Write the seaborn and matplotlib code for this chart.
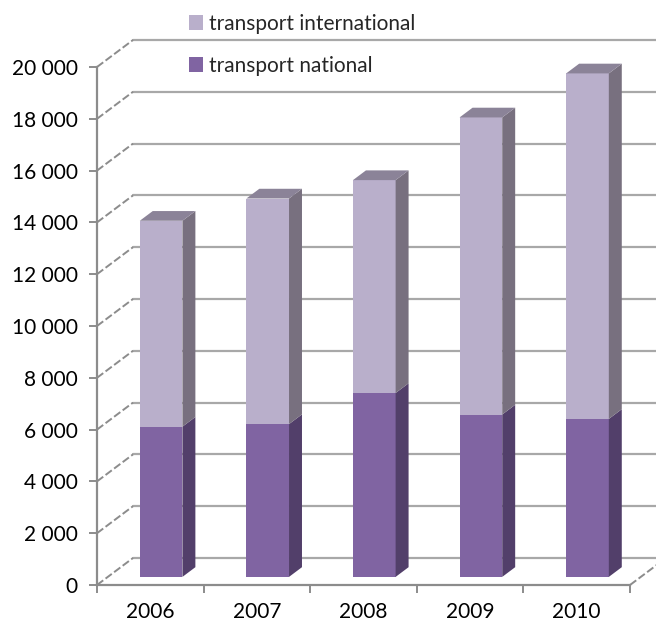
import pandas as pd
import matplotlib
matplotlib.use("Agg")
import matplotlib.pyplot as plt
import seaborn as sns
from matplotlib.patches import Polygon, Patch
from matplotlib.ticker import FuncFormatter, FixedLocator

years = ["2006", "2007", "2008", "2009", "2010"]
national = [5800, 5900, 7100, 6270, 6100]
international = [7950, 8710, 8220, 11470, 13340]
labels = ["transport international", "transport national"]

y_max = 20000
y_step = 2000

# front / side / top colours
intl_colors = ("#B9AFCB", "#78707F", "#8B8398")
nat_colors = ("#8064A2", "#523F6A", "#6A5388")
grid_color = "#A8A8A8"

W, H = 656, 623


def draw_chart(df):
    sns.set_theme(style="white")
    plt.rcParams["font.family"] = ["Lato", "DejaVu Sans"]

    fig = plt.figure(figsize=(W / 100, H / 100), dpi=100)
    ax = fig.add_axes([97 / W, 38 / H, 533 / W, 518 / H])
    ax.set_xlim(-0.5, len(years) - 0.5)
    ax.set_ylim(0, y_max)

    # pseudo 3D depth, pixels -> data units
    px_x = 533 / len(years)
    px_y = 518 / y_max
    DX, DY = 36 / px_x, 27 / px_y
    f0, f1 = 0.3, 0.66

    x0, x1 = -0.5, len(years) - 0.5
    ticks = list(range(0, y_max + 1, y_step))

    # back wall grid + oblique connectors
    for v in ticks:
        ax.plot([x0 + DX, x1 + DX], [v + DY, v + DY], color=grid_color, lw=1.6,
                zorder=0, clip_on=False)
        ax.plot([x0, x0 + DX], [v, v + DY], color="#8C8C8C", lw=1.4,
                ls=(0, (4, 1.5)), zorder=0, clip_on=False)
    ax.plot([x1, x1 + DX], [0, DY], color="#8C8C8C", lw=1.4,
            ls=(0, (4, 1.5)), zorder=0, clip_on=False)

    sns.barplot(data=df, x="year", y="total", color=intl_colors[0], width=0.4,
                saturation=1, errorbar=None, ax=ax, zorder=3)
    sns.barplot(data=df, x="year", y="national", color=nat_colors[0], width=0.4,
                saturation=1, errorbar=None, ax=ax, zorder=3)

    n = len(years)
    tot_patches = ax.patches[:n]
    nat_patches = ax.patches[n:2 * n]
    d_x, d_y = (f1 - f0) * DX, (f1 - f0) * DY
    for p in list(tot_patches) + list(nat_patches):
        p.set_x(p.get_x() + f0 * DX)
        p.set_y(p.get_y() + f0 * DY)
        p.set_linewidth(0)
        p.set_clip_on(False)

    for tp, npch in zip(tot_patches, nat_patches):
        left = tp.get_x()
        right = left + tp.get_width()
        base = tp.get_y()
        top = base + tp.get_height()
        mid = base + npch.get_height()
        # side faces
        for lo, hi, col in [(base, mid, nat_colors[1]), (mid, top, intl_colors[1])]:
            ax.add_patch(Polygon([(right, lo), (right + d_x, lo + d_y),
                                  (right + d_x, hi + d_y), (right, hi)],
                                 closed=True, facecolor=col, lw=0, zorder=3,
                                 clip_on=False))
        # top face
        ax.add_patch(Polygon([(left, top), (right, top), (right + d_x, top + d_y),
                              (left + d_x, top + d_y)], closed=True,
                             facecolor=intl_colors[2], lw=0, zorder=3, clip_on=False))

    # axes styling
    for s in ["top", "right"]:
        ax.spines[s].set_visible(False)
    for s in ["left", "bottom"]:
        ax.spines[s].set_color("#8C8C8C")
        ax.spines[s].set_linewidth(1.6)
    ax.yaxis.set_major_locator(FixedLocator(ticks))
    ax.yaxis.set_major_formatter(FuncFormatter(lambda v, _: f"{int(v):,}".replace(",", " ")))
    ax.tick_params(axis="y", direction="out", length=6, width=1.4, color="#8C8C8C",
                   labelsize=15, pad=8, left=True, labelcolor="black")
    ax.xaxis.set_minor_locator(FixedLocator([i - 0.5 for i in range(n + 1)]))
    ax.tick_params(axis="x", which="major", length=0, labelsize=15, pad=12,
                   labelcolor="black")
    ax.tick_params(axis="x", which="minor", direction="out", length=6, width=1.4,
                   color="#8C8C8C", bottom=True)
    ax.set_xlabel("")
    ax.set_ylabel("")

    handles = [Patch(facecolor=intl_colors[0], edgecolor="none"),
               Patch(facecolor=nat_colors[0], edgecolor="none")]
    fig.legend(handles, labels, loc="upper left", bbox_to_anchor=(189 / W, 1 - 14 / H),
               frameon=False, fontsize=15, handlelength=0.65, handleheight=0.75,
               handletextpad=0.3, labelspacing=1.05, borderpad=0, borderaxespad=0)

    fig.savefig("out.png", dpi=100)


def main():
    df = pd.DataFrame({"year": years, "national": national,
                       "international": international})
    df["total"] = df["national"] + df["international"]
    draw_chart(df)


if __name__ == "__main__":
    main()
